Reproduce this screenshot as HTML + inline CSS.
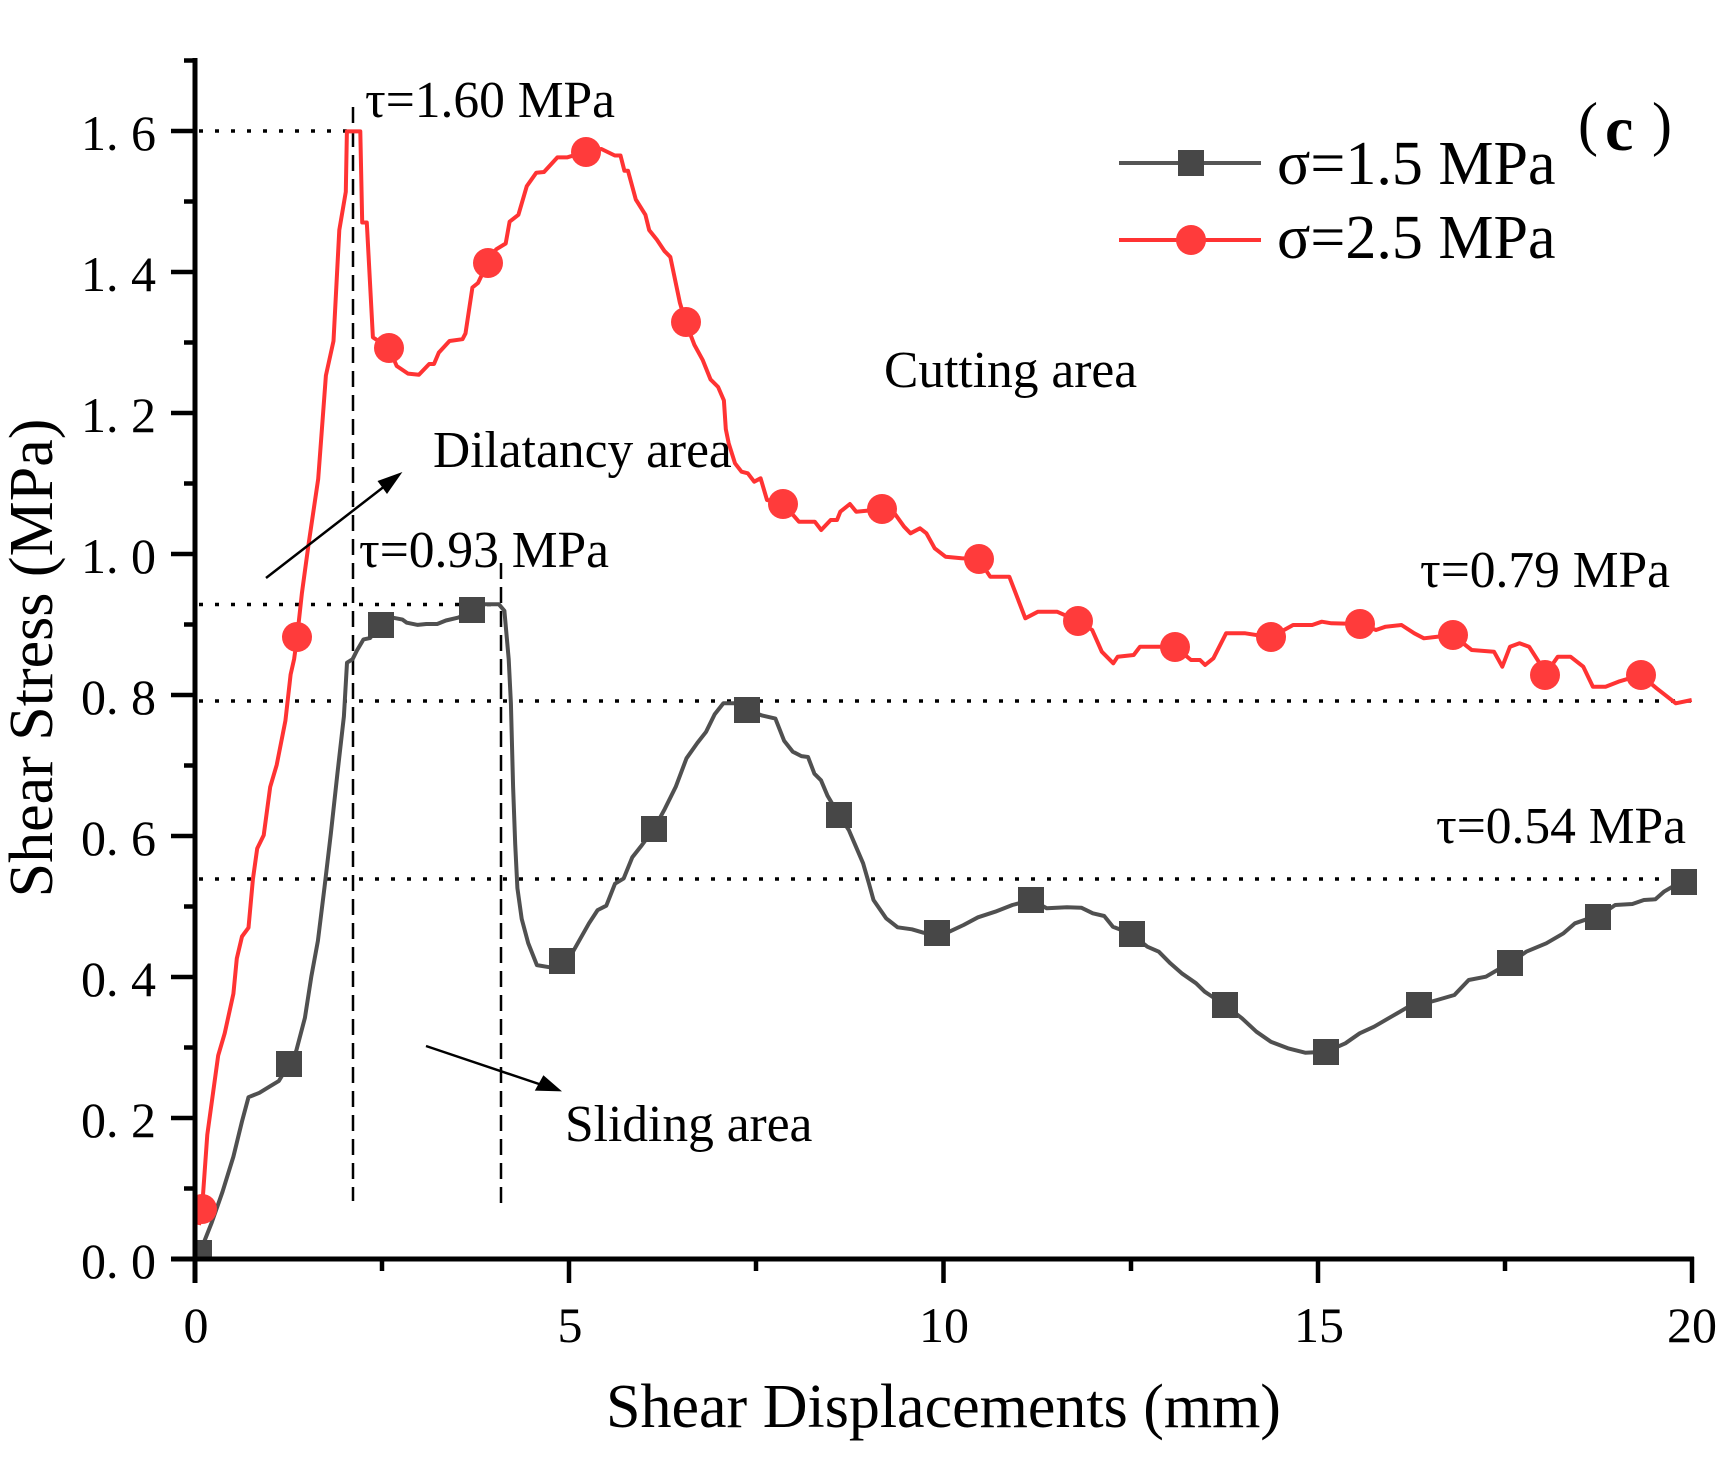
<!DOCTYPE html>
<html><head><meta charset="utf-8"><style>
html,body{margin:0;padding:0;background:#fff;}
svg{display:block;}
text{font-family:"Liberation Serif","Noto Serif CJK SC",serif;fill:#000;}
</style></head><body>
<svg width="1733" height="1475" viewBox="0 0 1733 1475" xmlns="http://www.w3.org/2000/svg">
<defs>
<clipPath id="pc"><rect x="197" y="0" width="1510" height="1257"/></clipPath>
</defs>
<rect width="1733" height="1475" fill="#fff"/>

<!-- reference lines -->
<g stroke="#000" stroke-width="3.5" stroke-dasharray="4 12" fill="none">
<line x1="199" y1="131" x2="352" y2="131"/>
<line x1="199" y1="604.5" x2="500" y2="604.5"/>
<line x1="199" y1="701" x2="1692" y2="701"/>
<line x1="199" y1="879" x2="1692" y2="879"/>
</g>
<g stroke="#000" stroke-width="2.5" stroke-dasharray="16 8" fill="none">
<line x1="353" y1="107" x2="353" y2="1201"/>
<line x1="501" y1="563" x2="501" y2="1205"/>
</g>

<g clip-path="url(#pc)">
<!-- black series -->
<polyline fill="none" stroke="#505050" stroke-width="4" stroke-linejoin="round" points="200,1250 203,1244.6 211.7,1222.6 222.5,1191.8 233.4,1156.6 242,1121.4 248.5,1097.2 259.4,1092.8 270.2,1086.2 278.9,1080.9 288.9,1064.2 296.2,1051 304.9,1017.9 311.4,976.1 317.9,940.9 324.4,888.1 330.9,833.1 337.4,773.7 343.9,716.4 347,662.7 352.6,659.2 357,650.4 363.5,639.4 370,638.1 380.8,624.9 391.6,617.4 402.5,619.6 406.8,622.7 417.7,624.9 426.3,624 437.2,624 445.9,620.5 458.9,617.4 471.9,609.9 484.9,604.2 498.8,604.2 504.4,610.8 508.7,659.2 510.9,703.2 513.1,786.9 515.2,844.1 517.4,888.1 521.7,918.9 528.2,943.1 536.9,965.1 549.9,967.3 562.1,960.7 571.6,954.1 580.3,938.7 589,923.3 597.6,910.1 606.3,905.7 615,883.7 623.7,878.4 632.3,857.3 641,846.3 654,828.7 664.8,808.9 675.7,786.9 686.5,758.3 697.4,742.9 706.1,731.8 714.7,714.2 723.4,703.2 734.2,703.2 747.2,709.8 762.4,715.6 775.4,718.6 784.1,740.7 792.8,751.7 801.4,756.1 808,757 814.4,773.7 821,780.3 827.5,795.7 839.2,815.5 848.8,830 854.5,843.3 863.1,863.3 868.9,883.3 873.5,900 880.4,910 886.1,918.3 897.6,927.3 911.9,929.3 923.4,932.7 936.6,933.3 949.3,931.7 963.6,925 978,917.3 995.2,911.7 1012.4,905 1031.3,900 1046.8,908.3 1066.9,907.3 1081.3,907.7 1092.8,913.3 1104.2,916 1112.9,926.7 1131.8,934 1147.3,946.7 1158.8,951.7 1170.3,963.3 1181.7,973.3 1196.1,983.3 1204.7,991.7 1224.8,1005 1242,1018.3 1256.4,1031.7 1270.8,1041.7 1287.9,1048.3 1305.2,1052.7 1326.4,1051.7 1345.4,1043.3 1359.7,1033.3 1374.1,1026.7 1391.3,1016.7 1408.5,1006.7 1418.8,1005 1437.2,1000 1454.4,995 1468.7,980 1485.9,976.7 1497.4,970 1510.1,963.3 1526.2,951.7 1546.3,943.3 1563.5,933.3 1575,923.3 1586.5,919.3 1598,916.7 1615.2,905 1632.4,904 1643.9,900 1655.4,899.3 1663.9,891.7 1675.4,885 1686,880"/>
<g fill="#474747">
<rect x="186" y="1240" width="26" height="26"/>
<rect x="276" y="1051" width="26" height="26"/>
<rect x="368" y="612" width="26" height="26"/>
<rect x="459" y="597" width="26" height="26"/>
<rect x="549" y="948" width="26" height="26"/>
<rect x="641" y="816" width="26" height="26"/>
<rect x="734" y="697" width="26" height="26"/>
<rect x="826" y="802" width="26" height="26"/>
<rect x="924" y="920" width="26" height="26"/>
<rect x="1018" y="887" width="26" height="26"/>
<rect x="1119" y="921" width="26" height="26"/>
<rect x="1212" y="992" width="26" height="26"/>
<rect x="1313" y="1039" width="26" height="26"/>
<rect x="1406" y="992" width="26" height="26"/>
<rect x="1497" y="950" width="26" height="26"/>
<rect x="1585" y="904" width="26" height="26"/>
<rect x="1671" y="869" width="26" height="26"/>
</g>

<!-- red series -->
<polyline fill="none" stroke="#ff3333" stroke-width="4" stroke-linejoin="round" points="199,1225 202,1209 207.3,1134.6 218.2,1055.4 224.7,1033.3 233.4,993.7 236.8,958.5 242,936.5 248.5,927.7 252.9,879.3 257.2,848.5 263.7,835.3 270.2,786.9 276.7,764.9 285.4,720.8 290.6,674.6 294.1,659.2 297.1,637.2 301.9,593.2 308.6,544 318.2,478.9 325.9,375.5 333.5,341 339.3,230 345.8,191.8 346.9,131.4 360.3,131.4 362.2,222.5 366.8,222.5 372.9,337.3 389,348 396.7,366 408,373.6 418.9,374.8 429.2,364 434,364 438.8,352.6 449.5,341 462.5,339.2 465.5,333.4 472.4,287.5 478,283 487.7,262.6 496.2,249.3 505.7,243.5 509.6,221.7 518.4,214.8 526.8,186.1 536.3,172.7 544,172 557.4,157.4 567,157.4 586.1,151.7 601.4,149 614.8,155.5 620.5,155.5 624.4,170.8 628,170.8 635.8,199.5 645.4,214.8 649.2,230.1 656.9,239.7 664.6,251.2 670.3,256.9 679.9,302.8 685.6,322 694.4,344.9 702.8,360.2 710.5,379.4 718.1,387 723.9,400.4 725.8,429.1 728.7,443.3 735,463.3 741.5,471.7 747.8,473.3 754.2,481.7 760.6,478.3 767,500 782.9,503.3 798.9,521.7 814.8,521.7 821.2,530 830.7,520 837,520 840.3,511.7 849.9,504 856.2,511.7 881.8,509.3 894.5,513.3 904.1,526.7 910.5,533.3 920,528.3 926.4,533.3 934.7,548.3 945.5,556.7 961.5,558.3 978.7,559.3 990.2,576.7 1009.3,576.7 1025.3,618.3 1038,611.7 1057,611.7 1077.6,620.7 1092.2,630 1101.8,651.7 1113.3,663.3 1117.7,656.7 1133.7,655 1140,646.7 1159.2,646.7 1175.1,646.7 1191,660 1200,660 1205.1,665 1213.4,658.3 1226.1,633.3 1245.3,633.3 1270.8,637.3 1293.1,625 1312.2,625 1321.8,621.7 1331.4,623.3 1360.1,624 1376,630 1385.6,626.7 1401.5,625 1414.3,633.3 1423.9,638.3 1452.6,635 1471.7,650 1494,651.7 1502.3,666.7 1510,646.7 1519.5,643.3 1529.1,646.7 1538.7,661.7 1545,675 1557.8,656.7 1570.5,656.7 1583.3,666.7 1592.9,686.7 1605.6,686.7 1618.4,681.7 1640.7,675 1656.6,688.3 1675.8,703.3 1691.7,700"/>
<g fill="#ff3b3b">
<circle cx="202" cy="1209" r="15"/>
<circle cx="297" cy="637" r="15"/>
<circle cx="389" cy="348" r="15"/>
<circle cx="488" cy="263" r="15"/>
<circle cx="586" cy="152" r="15"/>
<circle cx="686" cy="322" r="15"/>
<circle cx="783" cy="504" r="15"/>
<circle cx="882" cy="509" r="15"/>
<circle cx="979" cy="559" r="15"/>
<circle cx="1078" cy="621" r="15"/>
<circle cx="1175" cy="647" r="15"/>
<circle cx="1271" cy="637" r="15"/>
<circle cx="1360" cy="624" r="15"/>
<circle cx="1453" cy="635" r="15"/>
<circle cx="1545" cy="675" r="15"/>
<circle cx="1641" cy="675" r="15"/>
</g>
</g>

<!-- arrows -->
<g stroke="#000" stroke-width="2.5" fill="none">
<line x1="266" y1="578" x2="390" y2="482"/>
<line x1="426" y1="1046" x2="545" y2="1086"/>
</g>
<polygon points="402.4,472 387,494 377.5,481" fill="#000"/>
<polygon points="562,1091.4 534.8,1090.6 543.4,1075.2" fill="#000"/>

<!-- axes -->
<g stroke="#000" fill="none">
<line x1="195" y1="58" x2="195" y2="1283" stroke-width="5"/>
<line x1="171" y1="1259" x2="1694" y2="1259" stroke-width="5"/>
<g stroke-width="4.5">
<line x1="171" y1="131" x2="195" y2="131"/>
<line x1="171" y1="272" x2="195" y2="272"/>
<line x1="171" y1="413" x2="195" y2="413"/>
<line x1="171" y1="554" x2="195" y2="554"/>
<line x1="171" y1="695" x2="195" y2="695"/>
<line x1="171" y1="836" x2="195" y2="836"/>
<line x1="171" y1="977" x2="195" y2="977"/>
<line x1="171" y1="1118" x2="195" y2="1118"/>
<line x1="184" y1="60.5" x2="195" y2="60.5"/>
<line x1="184" y1="201.5" x2="195" y2="201.5"/>
<line x1="184" y1="342.5" x2="195" y2="342.5"/>
<line x1="184" y1="483.5" x2="195" y2="483.5"/>
<line x1="184" y1="624.5" x2="195" y2="624.5"/>
<line x1="184" y1="765.5" x2="195" y2="765.5"/>
<line x1="184" y1="906.5" x2="195" y2="906.5"/>
<line x1="184" y1="1047.5" x2="195" y2="1047.5"/>
<line x1="184" y1="1188.5" x2="195" y2="1188.5"/>
<line x1="569" y1="1259" x2="569" y2="1283"/>
<line x1="943.5" y1="1259" x2="943.5" y2="1283"/>
<line x1="1318" y1="1259" x2="1318" y2="1283"/>
<line x1="1692" y1="1257" x2="1692" y2="1283"/>
<line x1="382" y1="1259" x2="382" y2="1271"/>
<line x1="756" y1="1259" x2="756" y2="1271"/>
<line x1="1131" y1="1259" x2="1131" y2="1271"/>
<line x1="1505" y1="1259" x2="1505" y2="1271"/>
</g>
</g>

<!-- tick labels -->
<g font-size="50" text-anchor="end">
<text x="156" y="150">1. 6</text>
<text x="156" y="291">1. 4</text>
<text x="156" y="432">1. 2</text>
<text x="156" y="573">1. 0</text>
<text x="156" y="714">0. 8</text>
<text x="156" y="855">0. 6</text>
<text x="156" y="996">0. 4</text>
<text x="156" y="1137">0. 2</text>
<text x="156" y="1278">0. 0</text>
</g>
<g font-size="50" text-anchor="middle">
<text x="196" y="1342">0</text>
<text x="570" y="1342">5</text>
<text x="944" y="1342">10</text>
<text x="1319" y="1342">15</text>
<text x="1692" y="1342">20</text>
</g>

<!-- axis titles -->
<text x="943.5" y="1427" font-size="62" text-anchor="middle">Shear Displacements (mm)</text>
<text transform="translate(52,658) rotate(-90)" font-size="62" text-anchor="middle">Shear Stress (MPa)</text>

<!-- annotations -->
<g font-size="51.5">
<text x="365" y="117">τ=1.60 MPa</text>
<text x="359" y="567">τ=0.93 MPa</text>
<text x="433" y="467">Dilatancy area</text>
<text x="884" y="387">Cutting area</text>
<text x="1420" y="587">τ=0.79 MPa</text>
<text x="1436" y="843">τ=0.54 MPa</text>
<text x="565" y="1141">Sliding area</text>
</g>

<!-- legend -->
<line x1="1119" y1="163" x2="1261" y2="163" stroke="#555" stroke-width="4"/>
<rect x="1178" y="150" width="26" height="26" fill="#474747"/>
<line x1="1119" y1="240" x2="1261" y2="240" stroke="#ff3333" stroke-width="4"/>
<circle cx="1191" cy="240" r="15" fill="#ff3b3b"/>
<text x="1277" y="184" font-size="62">σ=1.5 MPa</text>
<text x="1277" y="258" font-size="62">σ=2.5 MPa</text>

<!-- panel label -->
<text x="1578" y="144" font-size="60">(</text>
<text x="1605" y="150" font-size="64" font-weight="bold">c</text>
<text x="1652" y="144" font-size="60">)</text>
</svg>
</body></html>
